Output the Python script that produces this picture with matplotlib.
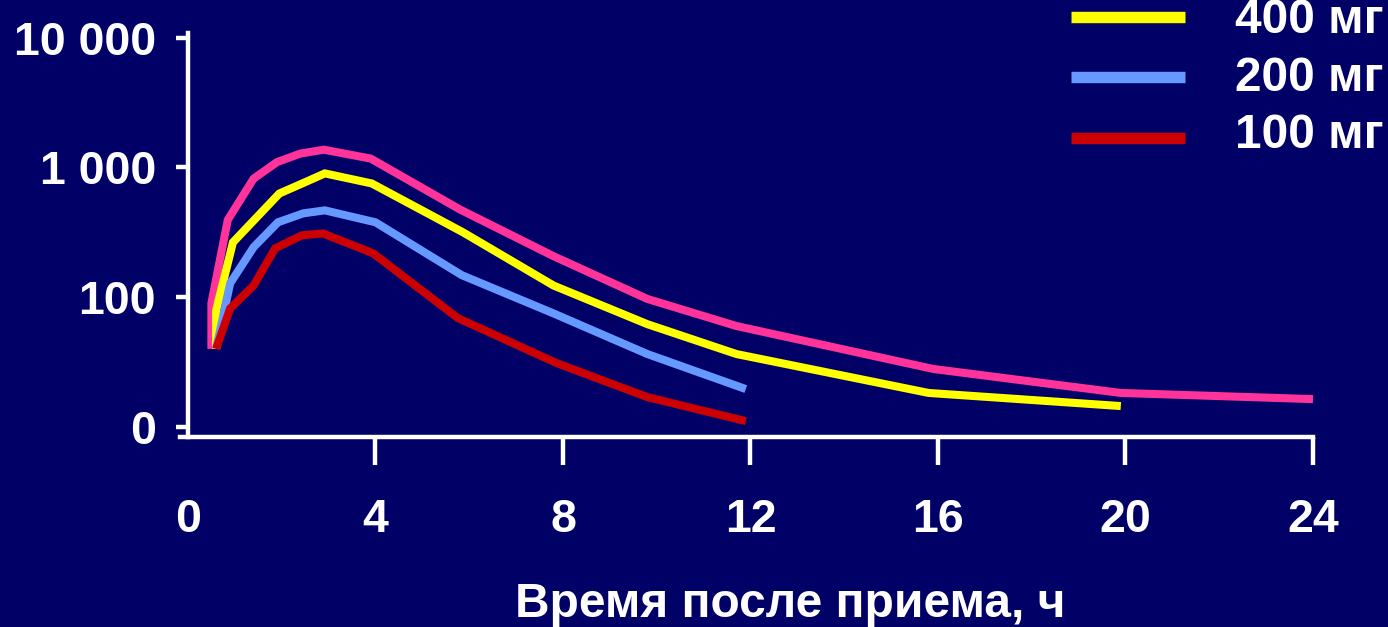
import matplotlib
matplotlib.use("Agg")
import matplotlib.pyplot as plt
from matplotlib.lines import Line2D
from matplotlib.ticker import FixedLocator, NullLocator

plt.rcParams['font.family'] = ['Liberation Sans', 'DejaVu Sans']

# Plasma concentration after a single dose (log scale)
t_800 = [0.5, 0.5, 0.85, 1.4, 1.9, 2.4, 2.9, 3.9, 5.8, 7.8, 9.8, 11.7, 15.9, 19.9, 24.0]
c_800 = [40, 90, 395, 820, 1100, 1280, 1370, 1170, 475, 207, 97, 60, 28, 18.3, 16.4]

t_400 = [0.6, 0.6, 0.96, 1.95, 2.5, 2.92, 3.92, 5.87, 7.8, 9.8, 11.7, 15.8, 19.9]
c_400 = [40, 79, 265, 630, 770, 900, 753, 316, 123, 62, 36.5, 18.3, 14.5]

t_200 = [0.6, 0.9, 1.4, 1.92, 2.46, 2.92, 4.0, 5.84, 7.8, 9.8, 11.9]
c_200 = [40, 128, 243, 378, 443, 467, 378, 148, 75, 36.5, 19.6]

t_100 = [0.6, 0.9, 1.4, 1.86, 2.43, 2.88, 3.95, 5.76, 7.87, 9.8, 11.9]
c_100 = [40, 82, 123, 238, 300, 310, 218, 69, 31, 17, 11.1]

legend_labels = ["400 мг", "200 мг", "100 мг"]
x_ticks = [0, 4, 8, 12, 16, 20, 24]
y_ticks = [10, 100, 1000, 10000]
y_tick_labels = ["0", "100", "1 000", "10 000"]
x_label = "Время после приема, ч"

BG = "#000066"
PINK = "#FF3399"
YELLOW = "#FFFF00"
BLUE = "#6699FF"
RED = "#CC0000"

W, H = 1388, 627
fig = plt.figure(figsize=(W / 100, H / 100), dpi=100, facecolor=BG)

# axes box in pixel coordinates
left_px, right_px, top_px, bottom_px = 180, 1313, 33, 437
ax = fig.add_axes([left_px / W, 1 - bottom_px / H,
                   (right_px - left_px) / W, (bottom_px - top_px) / H])
ax.set_facecolor(BG)

lw = 5.8
for t, c, col in [(t_800, c_800, PINK), (t_400, c_400, YELLOW),
                  (t_200, c_200, BLUE), (t_100, c_100, RED)]:
    ax.plot(t, c, color=col, lw=lw, solid_capstyle='butt',
            solid_joinstyle='miter', clip_on=False)

ax.set_yscale('log')
ax.set_xlim(-0.17, 24)
ax.set_ylim(10 ** 0.923, 10 ** 4.036)

for s in ['top', 'right']:
    ax.spines[s].set_visible(False)
ax.spines['left'].set_position(('data', 0))
for s in ['left', 'bottom']:
    ax.spines[s].set_color('white')
    ax.spines[s].set_linewidth(3.2)

ax.yaxis.set_major_locator(FixedLocator(y_ticks))
ax.yaxis.set_minor_locator(NullLocator())
ax.set_yticklabels(y_tick_labels)
ax.set_xticks(x_ticks)
ax.set_xticklabels([str(v) for v in x_ticks])

ax.tick_params(axis='y', which='major', direction='out', length=9, width=3.2,
               color='white', labelcolor='white', labelsize=33.5, pad=14)
ax.tick_params(axis='x', which='major', direction='out', length=20, width=3.2,
               color='white', labelcolor='white', labelsize=33.5, pad=24)
# no tick mark under the origin, only its label
ax.xaxis.get_major_ticks()[0].tick1line.set_visible(False)
for lab in ax.get_yticklabels() + ax.get_xticklabels():
    lab.set_fontweight('bold')

fig.text((515 + 1065) / 2 / W, 1 - 617 / H, x_label, ha='center', va='baseline',
         color='white', fontsize=34.5, fontweight='bold')

# legend drawn in figure pixels
leg_line_y = [16.5, 77, 138]
leg_text_base = [33, 91, 148]
for col, ly, tb, lab in zip([YELLOW, BLUE, RED], leg_line_y, leg_text_base, legend_labels):
    fig.add_artist(Line2D([1071 / W, 1185 / W], [1 - ly / H, 1 - ly / H],
                          color=col, lw=8.2, solid_capstyle='butt',
                          transform=fig.transFigure))
    fig.text(1235 / W, 1 - tb / H, lab, ha='left', va='baseline',
             color='white', fontsize=34.5, fontweight='bold')

fig.savefig("out.png", dpi=100, facecolor=BG)
